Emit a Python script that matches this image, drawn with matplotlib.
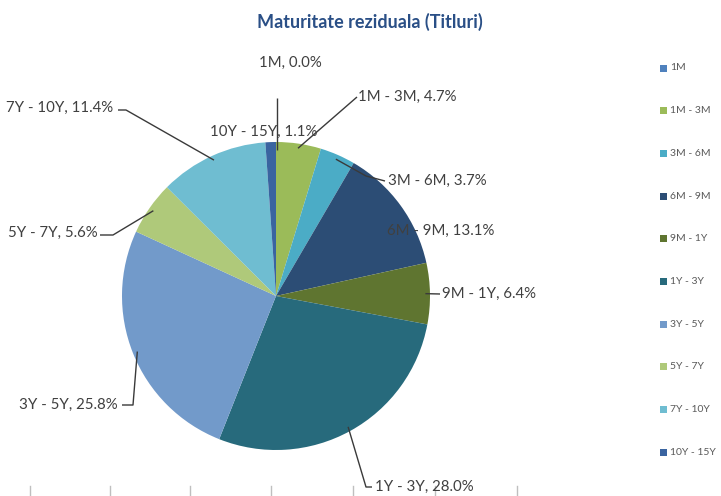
import numpy as np
import matplotlib
matplotlib.use("Agg")
import matplotlib.pyplot as plt

categories = ["1M", "1M - 3M", "3M - 6M", "6M - 9M", "9M - 1Y", "1Y - 3Y",
              "3Y - 5Y", "5Y - 7Y", "7Y - 10Y", "10Y - 15Y"]
values = [0.0, 4.7, 3.7, 13.1, 6.4, 28.0, 25.8, 5.6, 11.4, 1.1]
colors = ["#4F81BD", "#9BBB59", "#4BACC6", "#2C4D75", "#5F7530", "#276A7C",
          "#729ACA", "#AFC97A", "#6FBDD1", "#3A64A0"]
title = "Maturitate reziduala (Titluri)"

W, H = 721, 496
plt.rcParams['font.family'] = ['Lato', 'DejaVu Sans']
fig = plt.figure(figsize=(W / 100, H / 100), dpi=100)
ax = fig.add_axes([0, 0, 1, 1])

cx, cy, R = 276, 200, 154
wedges, _ = ax.pie(values, colors=colors, startangle=90, counterclock=False,
                   center=(cx, cy), radius=R, frame=True,
                   wedgeprops=dict(linewidth=0))
ax.set_xlim(0, W)
ax.set_ylim(0, H)
ax.set_aspect('equal')
ax.axis('off')

def py(y):
    return H - y

def edge(i, r=1.0):
    w = wedges[i]
    a = np.deg2rad((w.theta1 + w.theta2) / 2)
    return cx + R * r * np.cos(a), cy + R * r * np.sin(a)

lc = "#404040"
fs = 10.8
labels = [
    (0, (290, 63), 'center', [(277, 98)]),
    (1, (358, 97), 'left', [(357, 97)]),
    (2, (388, 181), 'left', [(385, 181), (366, 176)]),
    (3, (387, 231), 'left', None),
    (4, (442, 294), 'left', [(440, 294)]),
    (5, (375, 487), 'left', [(372, 487), (366, 487)]),
    (6, (19, 405), 'left', [(122, 405), (133, 405)]),
    (7, (8, 233), 'left', [(100, 235), (113, 235)]),
    (8, (6, 108), 'left', [(118, 110), (126, 110)]),
    (9, (210, 132), 'left', None),
]
for i, (tx, ty), ha, pts in labels:
    txt = f"{categories[i]}, {values[i]:.1f}%"
    ax.text(tx, py(ty), txt, ha=ha, va='center', fontsize=fs, color=lc)
    if pts is not None:
        ex, ey = edge(i, 0.97)
        if i == 0:
            ex, ey = 277, py(150)
        xs = [p[0] for p in pts] + [ex]
        ys = [py(p[1]) for p in pts] + [ey]
        ax.plot(xs, ys, color="#3a3a3a", lw=1.0, solid_capstyle='butt')

ax.text(370, py(22), title, ha='center', va='center', fontsize=13,
        fontweight='bold', color="#2A4F86")

# legend
ly0, dly = 68, 42.7
for k, (c, name) in enumerate(zip(colors, categories)):
    yy = py(ly0 + k * dly)
    ax.add_patch(plt.Rectangle((660, yy - 3.5), 7, 7, color=c, lw=0))
    ax.text(670, yy, name, ha='left', va='center', fontsize=7.5, color="#595959")

# bottom axis ticks from chart below
for x in [30, 110, 190, 271, 353, 435, 517]:
    ax.plot([x, x], [0, 10], color="#bfbfbf", lw=1)

fig.savefig("out.png", dpi=100)
